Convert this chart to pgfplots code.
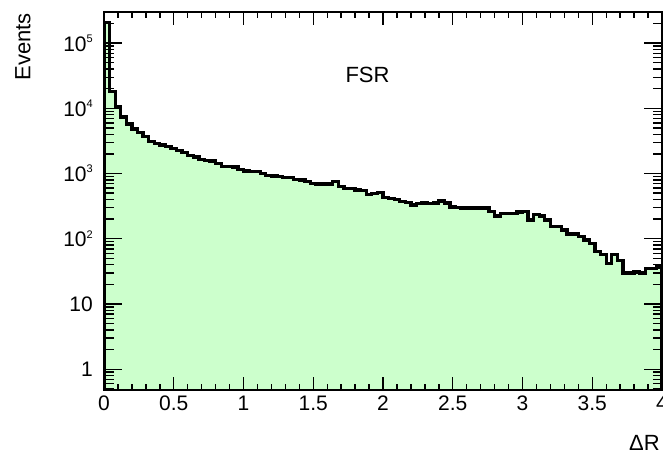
\documentclass[border=0pt]{standalone}
\usepackage{fontspec}
\setmainfont{Liberation Sans}
\usepackage{pgfplots}
\pgfplotsset{compat=1.18}
\usepackage{pgfplotstable}
\definecolor{hfill}{RGB}{204,255,204}
\newcommand\tp[1]{10\raisebox{0.42em}{\fontsize{11bp}{11bp}\selectfont #1}\hspace{5bp}}

\pgfplotstableread{
x y
0.00 0.3
0.00 205000
0.04 18100
0.08 10430
0.12 7330
0.16 5780
0.20 4800
0.24 4210
0.28 3660
0.32 3120
0.36 2855
0.40 2755
0.44 2570
0.48 2393
0.52 2230
0.56 2100
0.60 1900
0.64 1785
0.68 1623
0.72 1583
0.76 1566
0.80 1409
0.84 1290
0.88 1280
0.92 1267
0.96 1167
1.00 1100
1.04 1088
1.08 1062
1.12 1000
1.16 938
1.20 922
1.24 906
1.28 875
1.32 868
1.36 815
1.40 800
1.44 759
1.48 707
1.52 695
1.56 695
1.60 695
1.64 754
1.68 636
1.72 589
1.76 583
1.80 558
1.84 548
1.88 483
1.92 497
1.96 506
2.00 431
2.04 414
2.08 402
2.12 375
2.16 361
2.20 328
2.24 349
2.28 352
2.32 349
2.36 355
2.40 381
2.44 355
2.48 308
2.52 298
2.56 295
2.60 295
2.64 295
2.68 295
2.72 295
2.76 261
2.80 224
2.84 247
2.88 247
2.92 247
2.96 256
3.00 261
3.04 195
3.08 233
3.12 224
3.16 195
3.20 154
3.24 154
3.28 137
3.32 118
3.36 118
3.40 108
3.44 96
3.48 84
3.52 64
3.56 57
3.60 42
3.64 57
3.68 47
3.72 30
3.76 30
3.80 31
3.84 30
3.88 35
3.92 35
3.96 37
4.00 37
4.00 0.3
}\histdata

\begin{document}
\fontsize{21bp}{25bp}\selectfont
\begin{tikzpicture}
\useasboundingbox (-104bp,-66bp) rectangle (559bp,390bp);
\begin{axis}[
  at={(0,0)}, anchor=south west,
  width=558bp, height=378bp, scale only axis,
  xmin=0, xmax=4, ymode=log, ymin=0.48, ymax=3.0e5,
  xtick={0,0.5,1,1.5,2,2.5,3,3.5,4},
  xticklabels={0,0.5,1,1.5,2,2.5,3,3.5,4},
  minor x tick num=4,
  ytick=\empty,
  tick align=inside,
  major tick length=12.7bp, minor tick length=6.5bp,
  axis line style={line width=1.4bp},
  every tick/.style={black, line width=1.4bp},
  axis on top,
  xticklabel style={inner sep=0pt, yshift=-6bp, font=\fontsize{21bp}{25bp}\selectfont},
]
\addplot[fill=hfill, draw=none, const plot] table[x=x,y=y]{\histdata};
\addplot[black, line width=3.3bp, const plot, line join=miter] table[x=x,y=y]{\histdata};
\end{axis}
\begin{axis}[
  at={(0,0)}, anchor=south west,
  width=558bp, height=378bp, scale only axis,
  xmin=0, xmax=4, ymode=log, ymin=0.48, ymax=3.0e5,
  xtick=\empty,
  ytick={1,10,100,1000,10000,100000},
  yticklabels={1,10,\tp{2},\tp{3},\tp{4},\tp{5}},
  minor ytick={0.5,0.6,0.7,0.8,0.9,2,3,4,5,6,7,8,9,20,30,40,50,60,70,80,90,200,300,400,500,600,700,800,900,2000,3000,4000,5000,6000,7000,8000,9000,20000,30000,40000,50000,60000,70000,80000,90000,200000,300000},
  tick align=inside,
  major tick length=18bp, minor tick length=9.5bp,
  axis line style={line width=1.4bp},
  every tick/.style={black, line width=1.4bp},
  yticklabel style={inner sep=0pt, xshift=-11bp, font=\fontsize{21bp}{25bp}\selectfont},
]
\end{axis}
\node[rotate=90, anchor=north east, inner sep=0pt, font=\fontsize{22bp}{26bp}\selectfont] at (-89bp,377bp) {Events};
\node[anchor=base, inner sep=0pt, font=\fontsize{22bp}{26bp}\selectfont] at (263.5bp,307bp) {FSR};
\node[anchor=base east, inner sep=0pt, font=\fontsize{22bp}{26bp}\selectfont] at (556bp,-60bp) {ΔR};
\end{tikzpicture}
\end{document}
